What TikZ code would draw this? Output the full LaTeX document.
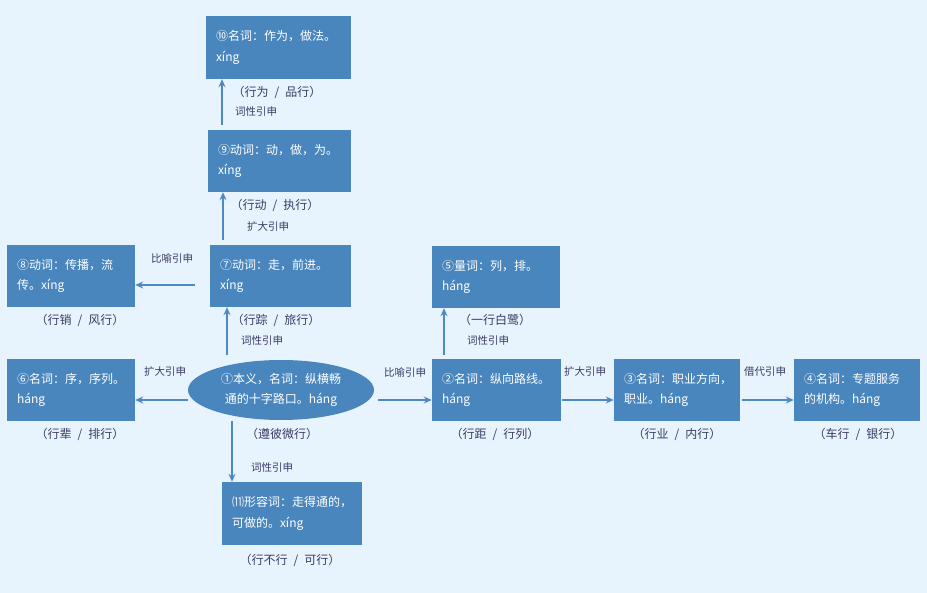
\documentclass[tikz,border=0pt]{standalone}
\usepackage{fontspec}
\setmainfont{Noto Sans CJK SC}
\usetikzlibrary{arrows.meta}
\usetikzlibrary{shapes.geometric}
\definecolor{boxblue}{RGB}{74,134,190}
\definecolor{lineblue}{RGB}{79,137,195}
\definecolor{bgblue}{RGB}{232,244,253}
\definecolor{labelink}{RGB}{58,58,102}
\newcommand{\sep}{\enspace/\enspace}

\begin{document}
\begin{tikzpicture}[x=1pt, y=-1pt,
    box/.style={fill=boxblue, text=white, minimum height=62pt, inner xsep=10pt,
        align=left, font=\fontsize{12}{20.5}\selectfont},
    example/.style={text=labelink, font=\fontsize{12}{14}\selectfont},
    how/.style={text=labelink, font=\fontsize{10.5}{12}\selectfont},
    conn/.style={draw=lineblue, line width=1.6pt, -{Stealth[length=8pt,width=7pt]}}]
    % Background
    \fill[bgblue] (0,0) rectangle (927,593);

    % Centre: original meaning
    \node[ellipse, fill=boxblue, text=white, minimum width=186pt, minimum height=60pt,
        inner sep=0pt, align=center, font=\fontsize{12}{20.5}\selectfont]
        (e1) at (281,390) {①本义，名词：纵横畅\\通的十字路口。háng};
    \node[example] (x1) at (282,434) {（遵彼微行）};

    % Upper column
    \node[box, text width=125pt, minimum height=63pt] (b10) at (278.5,47.5) {⑩名词：作为，做法。\\xíng};
    \node[example] (x10) at (277,92) {（行为\sep 品行）};
    \node[box, text width=123pt] (b9) at (279.5,161) {⑨动词：动，做，为。\\xíng};
    \node[example] (x9) at (275,205) {（行动\sep 执行）};
    \node[box, text width=121pt] (b7) at (280.5,276) {⑦动词：走，前进。\\xíng};
    \node[example] (x7) at (276,320) {（行踪\sep 旅行）};

    % Left column
    \node[box, text width=108pt] (b8) at (71,276) {⑧动词：传播，流\\传。xíng};
    \node[example] (x8) at (80,320) {（行销\sep 风行）};
    \node[box, text width=108pt] (b6) at (71,390) {⑥名词：序，序列。\\háng};
    \node[example] (x6) at (80,434) {（行辈\sep 排行）};

    % Lower box
    \node[box, text width=120pt, minimum height=63pt] (b11) at (292,513.5) {⑾形容词：走得通的，\\可做的。xíng};
    \node[example] (x11) at (290,560) {（行不行\sep 可行）};

    % Right row
    \node[box, text width=109pt] (b2) at (496.5,390) {②名词：纵向路线。\\háng};
    \node[example] (x2) at (495,434) {（行距\sep 行列）};
    \node[box, text width=108pt] (b5) at (496,277) {⑤量词：列，排。\\háng};
    \node[example] (x5) at (495,320) {（一行白鹭）};
    \node[box, text width=106pt] (b3) at (677,390) {③名词：职业方向，\\职业。háng};
    \node[example] (x3) at (677,434) {（行业\sep 内行）};
    \node[box, text width=106pt] (b4) at (857,390) {④名词：专题服务\\的机构。háng};
    \node[example] (x4) at (858,434) {（车行\sep 银行）};

    % Connectors (free start points)
    \coordinate (s10) at (222,125);
    \coordinate (s9) at (223,240);
    \coordinate (s7) at (227,355);
    \coordinate (s8) at (195,285);
    \coordinate (s6) at (188,400);
    \coordinate (s11) at (232,421);
    \coordinate (s2) at (378,400);
    \coordinate (s5) at (444,355);
    \coordinate (s3) at (562,400);
    \coordinate (s4) at (742,400);
    \draw[conn] (s10) -- (s10 |- b10.south);
    \draw[conn] (s9) -- (s9 |- b9.south);
    \draw[conn] (s7) -- (s7 |- b7.south);
    \draw[conn] (s8) -- (s8 -| b8.east);
    \draw[conn] (s6) -- (s6 -| b6.east);
    \draw[conn] (s11) -- (s11 |- b11.north);
    \draw[conn] (s2) -- (s2 -| b2.west);
    \draw[conn] (s5) -- (s5 |- b5.south);
    \draw[conn] (s3) -- (s3 -| b3.west);
    \draw[conn] (s4) -- (s4 -| b4.west);

    % Connector labels
    \node[how] (h10) at (256,112) {词性引申};
    \node[how] (h9) at (268,227) {扩大引申};
    \node[how] (h7) at (262,341) {词性引申};
    \node[how] (h8) at (172,258) {比喻引申};
    \node[how] (h6) at (165,372) {扩大引申};
    \node[how] (h11) at (272,468) {词性引申};
    \node[how] (h2) at (405,372) {比喻引申};
    \node[how] (h5) at (488,341) {词性引申};
    \node[how] (h3) at (585,372) {扩大引申};
    \node[how] (h4) at (765,372) {借代引申};
\end{tikzpicture}
\end{document}
